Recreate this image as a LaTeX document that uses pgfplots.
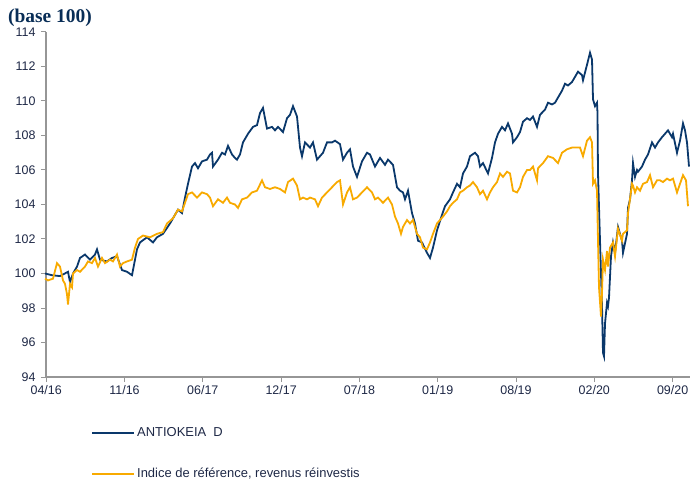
\documentclass[border=0pt]{standalone}
\usepackage{pgfplots}
\pgfplotsset{compat=1.18}
\usepackage{fontspec}
\setmainfont{Liberation Sans}
\newfontfamily\titlefont{Liberation Serif}
\definecolor{navy}{RGB}{10,56,107}
\definecolor{gold}{RGB}{248,170,0}
\definecolor{axgrey}{RGB}{150,150,150}
\definecolor{txt}{RGB}{30,40,70}
\begin{document}
\begin{tikzpicture}
\useasboundingbox (-46bp,-104bp) rectangle (644bp,377bp);
\begin{axis}[
  scale only axis, width=644bp, height=345bp,
  xmin=46, xmax=690, ymin=94, ymax=114,
  axis x line*=bottom, axis y line*=left,
  axis line style={axgrey, line width=1.2bp, -},
  tick style={axgrey, line width=1bp},
  tick align=outside, major tick length=5bp,
  xtick={46.2,124.5,202.8,281.1,359.4,437.7,516,594.3,672.6},
  xticklabels={04/16,11/16,06/17,12/17,07/18,01/19,08/19,02/20,09/20},
  ytick={94,96,...,114},
  ticklabel style={font=\fontsize{12.5}{13}\selectfont, text=txt},
  yticklabel style={xshift=-2bp},
  /pgf/number format/assume math mode=true,
  clip=false,
  legend style={draw=none, fill=none, at={(0.0705,-0.141)}, anchor=north west,
    font=\fontsize{13}{14}\selectfont, text=txt, row sep=26bp,
    inner sep=0pt, outer sep=0pt},
  legend cell align=left,
  legend image code/.code={\draw[#1] (0bp,0bp) -- (42bp,0bp);},
]
\addplot[navy, line width=1.8bp] coordinates {
(45,100.0)(52,99.9)(60,99.85)(68,100.1)(70,99.5)(73,100.0)(77,100.4)(80,100.9)(85,101.1)(90,100.8)(95,101.1)(97,101.4)(100,100.8)(107,100.7)(112,100.9)(117,101.0)(122,100.2)(127,100.1)(132,99.9)(133,100.2)(137,101.4)(140,101.8)(147,102.1)(153,101.8)(157,102.1)(163,102.3)(170,102.9)(178,103.7)(182,103.5)(185,104.4)(188,105.2)(192,106.2)(195,106.4)(198,106.1)(202,106.5)(207,106.6)(210,106.9)(212,107.0)(213,106.2)(218,106.6)(222,107.0)(225,106.9)(228,107.4)(232,106.9)(235,106.7)(237,106.6)(240,106.9)(243,107.6)(248,108.1)(253,108.5)(257,108.6)(260,109.3)(263,109.6)(267,108.4)(272,108.5)(275,108.3)(278,108.5)(283,108.2)(287,109.0)(290,109.2)(293,109.7)(297,109.1)(300,107.3)(302,106.8)(305,107.6)(310,107.3)(313,107.6)(317,106.6)(320,106.8)(323,107.0)(327,107.6)(332,107.6)(335,107.7)(340,107.5)(343,106.6)(347,107.0)(350,107.2)(353,106.2)(357,105.6)(362,106.5)(367,107.0)(370,106.9)(375,106.2)(380,106.7)(385,106.3)(388,106.6)(393,106.3)(397,105.0)(400,104.8)(403,104.7)(405,104.3)(408,104.8)(412,103.5)(415,102.9)(418,101.9)(422,101.8)(427,101.2)(430,100.9)(433,101.5)(437,102.5)(442,103.4)(445,103.9)(450,104.3)(453,104.7)(457,105.2)(460,105.0)(463,105.8)(467,106.2)(470,106.8)(475,107.0)(478,106.8)(480,106.2)(483,106.4)(488,105.8)(492,106.7)(495,107.6)(498,108.1)(502,108.5)(505,108.3)(508,108.7)(512,108.1)(513,107.6)(517,107.9)(520,108.2)(523,108.8)(527,109.0)(530,108.9)(533,109.1)(537,108.5)(540,109.2)(545,109.5)(548,109.9)(552,109.8)(555,109.9)(558,110.2)(562,110.6)(565,111.0)(568,110.9)(572,111.1)(575,111.4)(578,111.7)(582,111.5)(583,111.2)(587,112.1)(590,112.8)(592,112.4)(593,110.1)(595,109.7)(597,109.9)(597.5,109.3)(598,105.8)(600,101.9)(602,98.1)(603,95.4)(604,95.2)(605,97.1)(607,98.3)(608,98.1)(609,98.6)(611,101.0)(612,101.4)(613,101.8)(615,101.2)(618,102.7)(620,102.3)(622,101.9)(623,101.2)(627,102.3)(628,103.8)(630,104.3)(632,105.4)(633,106.4)(635,105.6)(637,106.0)(638,105.9)(642,106.2)(645,106.6)(648,106.9)(652,107.6)(655,107.3)(658,107.6)(662,107.9)(665,108.1)(668,108.3)(672,107.9)(673,108.1)(677,107.0)(680,107.7)(683,108.7)(685,108.3)(687,107.6)(689,106.2)
};
\addlegendentry{ANTIOKEIA\ \ D}
\addplot[gold, line width=1.8bp] coordinates {
(45,99.7)(48,99.6)(53,99.7)(57,100.6)(60,100.4)(63,99.6)(65,99.4)(67,98.8)(68,98.2)(70,99.4)(72,99.2)(73,100.0)(77,100.2)(80,100.1)(85,100.4)(88,100.7)(92,100.6)(95,100.9)(98,100.4)(102,100.9)(105,100.6)(110,100.8)(113,100.7)(117,101.1)(120,100.4)(123,100.6)(127,100.7)(132,100.8)(135,101.5)(138,102.0)(143,102.2)(150,102.1)(157,102.3)(163,102.4)(167,102.9)(173,103.2)(178,103.7)(182,103.6)(185,104.1)(188,104.6)(192,104.7)(197,104.4)(202,104.7)(207,104.6)(210,104.4)(213,103.9)(218,104.3)(223,104.1)(227,104.4)(230,104.1)(235,104.0)(238,103.8)(242,104.3)(247,104.4)(252,104.7)(257,104.8)(262,105.4)(265,105.0)(270,104.9)(275,105.0)(280,104.9)(285,104.7)(288,105.3)(293,105.5)(297,105.1)(300,104.3)(303,104.4)(307,104.3)(310,104.4)(315,104.3)(318,103.9)(322,104.4)(327,104.7)(332,105.0)(337,105.3)(340,105.4)(343,104.0)(347,104.7)(350,105.0)(353,104.3)(357,104.4)(362,104.7)(367,105.0)(372,104.7)(375,104.3)(378,104.4)(383,104.1)(388,104.4)(392,104.0)(395,103.3)(398,102.9)(401,102.3)(403,102.7)(407,103.1)(410,102.9)(413,103.1)(417,102.3)(420,102.1)(423,101.5)(427,101.4)(430,101.8)(433,102.3)(437,102.9)(440,103.1)(443,103.3)(447,103.6)(450,103.9)(453,104.1)(457,104.3)(460,104.7)(463,104.8)(467,105.0)(470,105.1)(473,105.3)(477,105.0)(480,104.6)(483,104.8)(487,104.3)(490,104.7)(493,105.0)(497,105.3)(500,105.8)(503,105.6)(507,105.9)(510,105.8)(513,104.8)(517,104.7)(520,105.0)(523,105.6)(527,106.0)(530,106.0)(533,106.2)(537,105.4)(538,106.1)(543,106.4)(548,106.8)(553,106.7)(558,106.4)(562,107.0)(567,107.2)(572,107.3)(577,107.3)(580,107.3)(583,106.8)(587,107.7)(590,107.9)(592,107.6)(593,105.2)(595,105.4)(597,104.8)(598,101.9)(599,99.2)(601,97.5)(602,98.9)(603,100.8)(605,100.2)(607,101.3)(608,100.4)(610,101.5)(613,101.8)(615,101.0)(618,102.6)(622,101.9)(623,102.3)(627,102.5)(628,103.5)(630,104.3)(632,105.2)(633,105.1)(635,104.7)(637,105.0)(640,104.8)(643,105.2)(647,105.3)(650,105.7)(653,105.0)(657,105.4)(660,105.4)(663,105.3)(667,105.5)(670,105.4)(673,105.5)(677,104.7)(680,105.2)(683,105.7)(686,105.4)(688,103.9)
};
\addlegendentry{Indice de référence, revenus réinvestis}
\end{axis}
\node[anchor=west, inner sep=0pt, text=navy!80!black, font=\titlefont\bfseries\fontsize{19.5}{20}\selectfont] at (-38bp,359bp) {(base 100)};
\end{tikzpicture}
\end{document}
